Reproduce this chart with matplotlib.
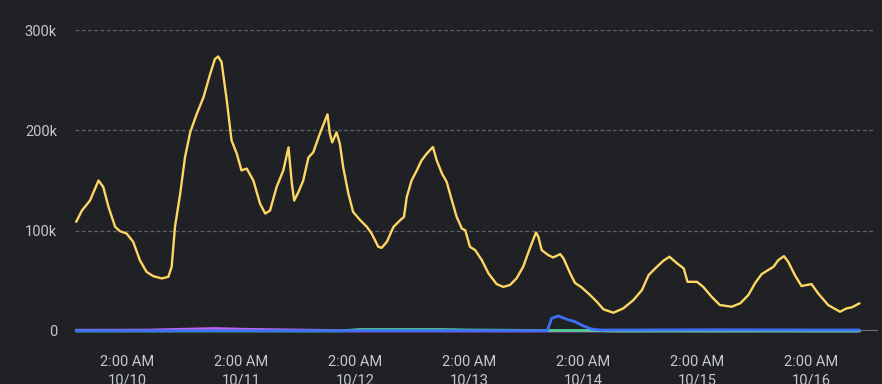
import matplotlib
matplotlib.use("Agg")
import matplotlib.pyplot as plt

# hours since 10/9 00:00
yellow_h = [15.3, 16.5, 18.2, 20.0, 21.0, 22.1, 23.5, 24.5, 25.9, 27.3, 28.7, 30.1, 31.5, 33.3, 34.7,
            35.4, 36.1, 37.2, 38.2, 39.3, 40.7, 42.1, 43.5, 44.5, 45.2, 45.9, 47.0, 48.0, 49.1, 50.1,
            51.2, 52.6, 54.0, 55.1, 56.1, 57.5, 58.9, 60.0, 60.7, 61.2, 62.1, 63.1, 64.2, 65.2, 66.6,
            68.2, 68.7, 69.2, 70.1, 70.8, 71.5, 72.6, 73.6, 75.1, 76.5, 77.5, 78.9, 79.6, 80.7, 82.1,
            83.5, 84.3, 84.9, 85.9, 87.0, 88.0, 89.1, 90.4, 91.2, 92.3, 93.3, 94.4, 95.4, 96.5, 97.2,
            98.2, 99.3, 100.7, 102.1, 103.8, 105.2, 106.6, 108.0, 109.4, 110.8, 112.1, 112.6, 113.3,
            114.7, 115.7, 117.2, 117.9, 119.3, 120.3, 121.7, 123.5, 124.9, 126.3, 128.4, 130.5, 132.6,
            134.4, 135.8, 137.2, 138.9, 140.2, 141.8, 143.2, 144.0, 146.0, 147.3, 149.1, 150.8, 153.3,
            155.1, 156.8, 158.2, 159.6, 162.1, 163.1, 164.3, 165.2, 166.6, 168.0, 170.1, 171.5, 173.6,
            176.1, 177.5, 178.6, 180.2]
yellow_v = [108.8, 120, 130, 150, 143.6, 123.7, 103.8, 99.5, 97.2, 88.9, 70.6, 59, 54.7, 52.4, 54,
            64, 103.8, 137, 173, 198, 216.6, 233, 256, 271, 273.6, 268, 230, 190, 176.8, 160,
            161.9, 150, 127, 117, 120, 143.6, 160, 183, 147, 130, 138.6, 150, 173, 178, 196.7,
            216, 196.7, 188, 198, 186.8, 163.5, 137, 118.7, 110.4, 103.8, 97.2, 83.9, 82.9, 88.9, 103.8,
            110.4, 113.7, 133.6, 150, 160, 170, 176.8, 183.4, 170, 157, 148.6, 130, 113.7, 102, 100.5,
            83.9, 80.6, 70.6, 57.4, 46.8, 44, 45.8, 52.4, 64, 82.3, 98.2, 93.8, 80.6,
            75.6, 73.3, 76.6, 72.3, 57.4, 48, 43.5, 35.8, 29.2, 21.6, 18.2, 22.6, 30.8,
            40.8, 55.7, 62.4, 70, 74, 67.4, 62.4, 49, 49, 44, 34, 25.9, 24.2,
            27.6, 35.8, 47.5, 56.7, 64, 70.6, 74.6, 69, 55.7, 44.8, 46.8, 37.5, 25.9,
            19.2, 22.6, 23.6, 27.6]

blue_h = [15.3, 60.0, 114.3, 114.5, 115.4, 116.8, 118.6, 120.3, 122.1, 123.8, 125.6, 150.0, 180.2]
blue_v = [0.3, 0.3, 0.3, 0.6, 12.6, 15.0, 11.6, 9.3, 5.0, 2.0, 1.0, 1.2, 1.0]

purple_h = [15.3, 30.0, 40.0, 44.5, 50.0, 62.0, 68.0, 73.0, 180.2]
purple_v = [0.8, 0.9, 2.0, 2.5, 1.8, 1.0, 0.6, 0.0, 0.0]

green_h = [15.3, 70.8, 75.0, 92.0, 98.0, 114.5, 125.6, 128.0, 180.2]
green_v = [0.0, 0.0, 1.5, 1.5, 1.0, 0.5, 0.5, 0.0, 0.0]

tick_h = [26, 50, 74, 98, 122, 146, 170]
tick_labels = ["2:00 AM\n10/10", "2:00 AM\n10/11", "2:00 AM\n10/12", "2:00 AM\n10/13",
               "2:00 AM\n10/14", "2:00 AM\n10/15", "2:00 AM\n10/16"]
ytick_v = [0, 100, 200, 300]
ytick_labels = ["0", "100k", "200k", "300k"]

bg = "#202124"
txt = "#c4c7cc"
gridc = "#5f6368"

plt.rcParams['font.family'] = ['Roboto', 'DejaVu Sans']
fig = plt.figure(figsize=(8.82, 3.84), dpi=100, facecolor=bg)
ax = fig.add_axes([75 / 882, 1 - 331 / 384, (878 - 75) / 882, (331 - 30) / 384])
ax.set_facecolor(bg)

style = dict(solid_joinstyle="round", solid_capstyle="round")
ax.plot(purple_h, purple_v, color="#c95ef2", lw=2.0, clip_on=False, zorder=3, **style)
ax.plot(green_h, green_v, color="#4ecb93", lw=2.0, clip_on=False, zorder=3, **style)
ax.plot(blue_h, blue_v, color="#3f6ff6", lw=2.0, clip_on=False, zorder=4, **style)
ax.plot(yellow_h, yellow_v, color="#fdd663", lw=1.7, zorder=5, **style)

ax.set_xlim(15.05, 184.1)
ax.set_ylim(0, 300)
ax.set_xticks(tick_h)
ax.set_xticklabels(tick_labels)
ax.set_yticks(ytick_v)
ax.set_yticklabels(ytick_labels)
ax.tick_params(length=0, colors=txt, labelsize=10.5)
ax.tick_params(axis="x", pad=17)
ax.tick_params(axis="y", pad=13)
for lab in ax.get_xticklabels():
    lab.set_linespacing(1.45)

for v in ytick_v[1:]:
    ax.axhline(v, xmax=(875 - 75) / (878 - 75), color=gridc, lw=0.9, ls=(0, (3, 2)), zorder=1)
ax.axhline(0, color="#6f7378", lw=1.5, zorder=2)

for s in ax.spines.values():
    s.set_visible(False)

fig.savefig("out.png", dpi=100, facecolor=bg)
